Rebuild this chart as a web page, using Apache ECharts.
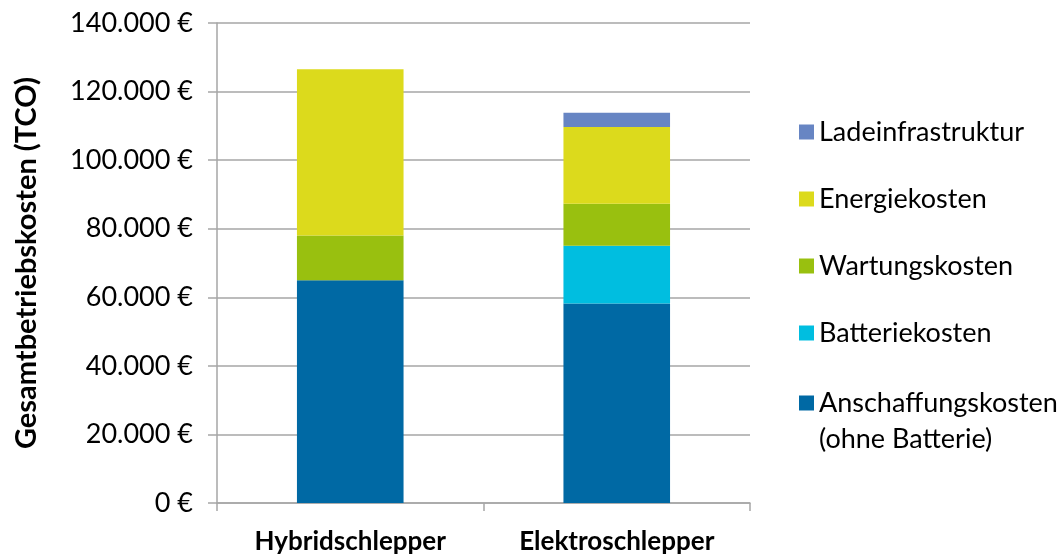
<!DOCTYPE html>
<html>
<head>
<meta charset="utf-8">
<script src="https://cdn.jsdelivr.net/npm/echarts@6/dist/echarts.min.js"></script>
<style>html,body{margin:0;padding:0;background:#fff}#c{width:1062px;height:556px}</style>
</head>
<body>
<div id="c"></div>
<script>
const categories = ['Hybridschlepper', 'Elektroschlepper'];
const anschaffung = [65000, 58200];
const batterie = [0, 16800];
const wartung = [13000, 12300];
const energie = [48500, 22400];
const lade = [0, 4100];
const yTicks = [0, 20000, 40000, 60000, 80000, 100000, 120000, 140000];

const names = {
  lade: 'Ladeinfrastruktur',
  energie: 'Energiekosten',
  wartung: 'Wartungskosten',
  batterie: 'Batteriekosten',
  anschaffung: 'Anschaffungskosten (ohne Batterie)'
};
const colors = {
  lade: '#6785C3',
  energie: '#DCDA1C',
  wartung: '#99C00F',
  batterie: '#00BEE0',
  anschaffung: '#0069A4'
};
const FONT = 'Lato';
function fmt(v) {
  return String(v).replace(/\B(?=(\d{3})+(?!\d))/g, '.') + ' €';
}
function mk(key, data) {
  return {
    name: names[key], type: 'bar', stack: 'tco', data: data,
    barWidth: '40%', itemStyle: { color: colors[key] }
  };
}
const chart = echarts.init(document.getElementById('c'));
chart.setOption({
  animation: false,
  textStyle: { fontFamily: FONT },
  grid: { left: 217, top: 23, right: 312, bottom: 53, containLabel: false },
  legend: [{
    orient: 'vertical', left: 794, top: 112,
    itemWidth: 15, itemHeight: 15, itemGap: 37, itemSpacing: 4,
    icon: 'rect',
    textStyle: { fontFamily: FONT, fontSize: 27, color: '#000', lineHeight: 30 },
    data: [names.lade, names.energie, names.wartung, names.batterie]
  }, {
    orient: 'vertical', left: 794, top: 344,
    itemWidth: 15, itemHeight: 15, itemSpacing: 4,
    icon: 'rect',
    formatter: function () { return '\nAnschaffungskosten\n(ohne Batterie)'; },
    textStyle: { fontFamily: FONT, fontSize: 27, color: '#000', lineHeight: 36 },
    data: [names.anschaffung]
  }],
  xAxis: {
    type: 'category', data: categories,
    axisLine: { lineStyle: { color: '#A6A6A6', width: 1.5 } },
    axisTick: { show: true, length: 8, lineStyle: { color: '#A6A6A6', width: 1.5 } },
    axisLabel: { fontFamily: FONT, fontSize: 26, fontWeight: 'bold', color: '#000', margin: 26 }
  },
  yAxis: {
    type: 'value', min: 0, max: 140000, interval: 20000,
    name: 'Gesamtbetriebskosten (TCO)', nameLocation: 'middle', nameGap: 176,
    nameTextStyle: { fontFamily: FONT, fontSize: 29, fontWeight: 'bold', color: '#000' },
    axisLine: { show: true, lineStyle: { color: '#A6A6A6', width: 1.5 } },
    axisTick: { show: true, length: 9, lineStyle: { color: '#A6A6A6', width: 1.5 } },
    splitLine: { lineStyle: { color: '#A6A6A6', width: 1.5 } },
    axisLabel: {
      fontFamily: FONT, fontSize: 27, color: '#000', margin: 24,
      formatter: function (v) { return yTicks.indexOf(v) >= 0 ? fmt(v) : ''; }
    }
  },
  series: [
    mk('anschaffung', anschaffung),
    mk('batterie', batterie),
    mk('wartung', wartung),
    mk('energie', energie),
    mk('lade', lade)
  ]
});
</script>
</body>
</html>
